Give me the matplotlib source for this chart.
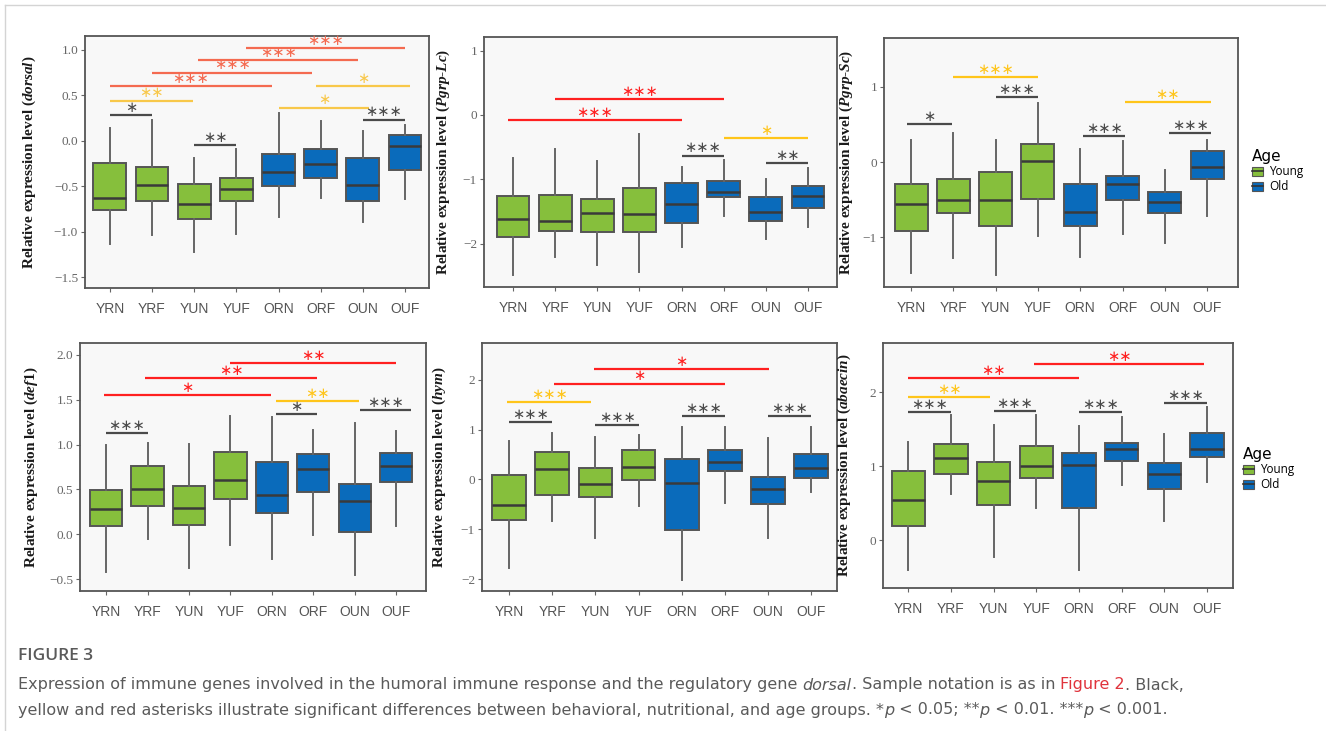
import matplotlib
matplotlib.use("Agg")
import matplotlib.pyplot as plt
from matplotlib.patches import Patch
from matplotlib.lines import Line2D
from matplotlib.transforms import IdentityTransform

plt.rcParams['mathtext.fontset'] = 'custom'
plt.rcParams['mathtext.it'] = 'Liberation Serif:italic:bold'
plt.rcParams['mathtext.rm'] = 'Liberation Serif:bold'

W, H = 1326, 731

groups = ["YRN", "YRF", "YUN", "YUF", "ORN", "ORF", "OUN", "OUF"]
age = ["Young"] * 4 + ["Old"] * 4

# box stats per group: whisker low, q1, median, q3, whisker high
dorsal = [
    [-1.134, -0.763, -0.624, -0.246, 0.139],
    [-1.035, -0.657, -0.485, -0.287, 0.23],
    [-1.225, -0.862, -0.69, -0.477, -0.19],
    [-1.027, -0.664, -0.529, -0.411, -0.089],
    [-0.84, -0.496, -0.345, -0.144, 0.311],
    [-0.631, -0.404, -0.257, -0.089, 0.219],
    [-0.888, -0.657, -0.485, -0.184, 0.109],
    [-0.642, -0.32, -0.06, 0.065, 0.179],
]
pgrp_lc = [
    [-2.48, -1.90, -1.62, -1.256, -0.67],
    [-2.20, -1.80, -1.64, -1.245, -0.53],
    [-2.33, -1.82, -1.52, -1.31, -0.71],
    [-2.43, -1.82, -1.54, -1.13, -0.30],
    [-2.05, -1.68, -1.385, -1.054, -0.80],
    [-1.566, -1.28, -1.194, -1.023, -0.70],
    [-1.93, -1.64, -1.50, -1.28, -0.987],
    [-1.74, -1.44, -1.26, -1.106, -0.83],
]
pgrp_sc = [
    [-1.477, -0.913, -0.554, -0.293, 0.297],
    [-1.277, -0.67, -0.51, -0.226, 0.386],
    [-1.499, -0.847, -0.501, -0.133, 0.297],
    [-0.987, -0.492, 0.009, 0.244, 0.785],
    [-1.255, -0.843, -0.665, -0.288, 0.173],
    [-0.953, -0.501, -0.288, -0.182, 0.275],
    [-1.069, -0.678, -0.532, -0.399, -0.111],
    [-0.71, -0.222, -0.067, 0.146, 0.297],
]
def1 = [
    [-0.422, 0.094, 0.288, 0.496, 0.997],
    [-0.054, 0.317, 0.51, 0.763, 1.016],
    [-0.377, 0.106, 0.299, 0.544, 1.004],
    [-0.117, 0.395, 0.607, 0.915, 1.32],
    [-0.273, 0.236, 0.436, 0.808, 1.305],
    [-0.007, 0.477, 0.73, 0.90, 1.157],
    [-0.452, 0.026, 0.373, 0.566, 1.238],
    [0.098, 0.585, 0.763, 0.904, 1.153],
]
hym = [
    [-1.786, -0.823, -0.522, 0.08, 0.769],
    [-0.836, -0.321, 0.201, 0.542, 0.93],
    [-1.184, -0.348, -0.087, 0.234, 0.856],
    [-0.535, -0.013, 0.241, 0.582, 0.89],
    [-2.02, -1.01, -0.067, 0.401, 1.05],
    [-0.468, 0.161, 0.348, 0.589, 1.05],
    [-1.17, -0.502, -0.194, 0.04, 0.829],
    [-0.261, 0.033, 0.234, 0.515, 1.05],
]
abaecin = [
    [-0.396, 0.198, 0.539, 0.939, 1.326],
    [0.629, 0.894, 1.11, 1.294, 1.685],
    [-0.216, 0.481, 0.804, 1.056, 1.551],
    [0.436, 0.84, 1.002, 1.276, 1.685],
    [-0.396, 0.436, 1.016, 1.182, 1.537],
    [0.751, 1.074, 1.231, 1.312, 1.658],
    [0.265, 0.697, 0.899, 1.043, 1.438],
    [0.782, 1.124, 1.236, 1.452, 1.798],
]

# significance brackets: (from, to, height, stars, group kind)
dorsal_sig = [
    (1, 2, 0.281, "*", "beh"), (3, 4, -0.045, "**", "beh"), (7, 8, 0.234, "***", "beh"),
    (1, 2.96, 0.443, "**", "nut"), (5, 7.15, 0.366, "*", "nut"), (5.9, 8.12, 0.604, "*", "nut"),
    (1, 4.84, 0.60, "***", "age"), (2, 5.8, 0.751, "***", "age"),
    (3.1, 6.88, 0.89, "***", "age"), (4.23, 8.0, 1.018, "***", "age"),
]
pgrp_lc_sig = [
    (5, 6, -0.63, "***", "beh"), (7, 8, -0.75, "**", "beh"),
    (6, 8, -0.36, "*", "nut"),
    (0.88, 5, -0.08, "***", "age"), (2, 6, 0.243, "***", "age"),
]
pgrp_sc_sig = [
    (0.9, 1.96, 0.506, "*", "beh"), (3, 4, 0.86, "***", "beh"),
    (5.06, 6.07, 0.341, "***", "beh"), (7.1, 8.1, 0.386, "***", "beh"),
    (2, 4, 1.131, "***", "nut"), (6.05, 8.08, 0.794, "**", "nut"),
]
def1_sig = [
    (1, 2, 1.127, "***", "beh"), (5.09, 6.09, 1.335, "*", "beh"), (7.12, 8.36, 1.383, "***", "beh"),
    (5.09, 7.11, 1.48, "**", "nut"),
    (0.95, 4.98, 1.55, "*", "age"), (1.95, 6.09, 1.74, "**", "age"), (3.98, 8.0, 1.91, "**", "age"),
]
hym_sig = [
    (1, 2, 1.144, "***", "beh"), (3, 4, 1.10, "***", "beh"),
    (5, 6, 1.27, "***", "beh"), (7, 8, 1.27, "***", "beh"),
    (0.95, 2.9, 1.552, "***", "nut"),
    (2.03, 6.01, 1.926, "*", "age"), (2.96, 7.03, 2.22, "*", "age"),
]
abaecin_sig = [
    (1, 2, 1.726, "***", "beh"), (3, 4, 1.748, "***", "beh"),
    (5, 6, 1.726, "***", "beh"), (7, 8, 1.852, "***", "beh"),
    (1, 2.91, 1.928, "**", "nut"),
    (1, 5, 2.189, "**", "age"), (3.95, 7.94, 2.382, "**", "age"),
]

age_colors = {"Young": "#86bf3c", "Old": "#0a6bbb"}
edge = "#555555"

# gene, data, brackets, pixel box (l, t, r, b), xlim, ylim, ticks, fmt, label x, red, yellow
panels = [
    ("dorsal", dorsal, dorsal_sig, (85, 36, 429, 288), (0.41, 8.57), (-1.62, 1.154),
     [-1.5, -1.0, -0.5, 0.0, 0.5, 1.0], "{:.1f}", 38, "#f46a50", "#f8c84a"),
    ("Pgrp-Lc", pgrp_lc, pgrp_lc_sig, (484, 37, 837, 287), (0.31, 8.69), (-2.67, 1.21),
     [-2, -1, 0, 1], "{:.0f}", 452, "#ff2020", "#ffc51a"),
    ("Pgrp-Sc", pgrp_sc, pgrp_sc_sig, (884, 38, 1238, 287), (0.36, 8.73), (-1.66, 1.65),
     [-1, 0, 1], "{:.0f}", 855, "#ff2020", "#ffc51a"),
    ("def1", def1, def1_sig, (80, 343, 426, 591), (0.37, 8.72), (-0.63, 2.13),
     [-0.5, 0.0, 0.5, 1.0, 1.5, 2.0], "{:.1f}", 40, "#ff2020", "#ffc51a"),
    ("hym", hym, hym_sig, (482, 343, 837, 591), (0.37, 8.6), (-2.24, 2.74),
     [-2, -1, 0, 1, 2], "{:.0f}", 448, "#ff2020", "#ffc51a"),
    ("abaecin", abaecin, abaecin_sig, (883, 343, 1233, 588), (0.41, 8.61), (-0.64, 2.66),
     [0, 1, 2], "{:.0f}", 853, "#ff2020", "#ffc51a"),
]

fig = plt.figure(figsize=(W / 100, H / 100), dpi=100, facecolor="white")

for gene, data, sig, box, xlim, ylim, yticks, fmt, labx, red, yellow in panels:
    l, t, r, b = box
    ax = fig.add_axes([l / W, 1 - b / H, (r - l) / W, (b - t) / H])
    ax.set_facecolor("#f8f8f8")
    stats = [dict(whislo=s[0], q1=s[1], med=s[2], q3=s[3], whishi=s[4], label=g)
             for s, g in zip(data, groups)]
    bp = ax.bxp(stats, positions=range(1, 9), widths=0.78, patch_artist=True,
                showfliers=False, showcaps=False,
                boxprops=dict(edgecolor=edge, linewidth=1.4),
                medianprops=dict(color="#3a3a3a", linewidth=1.8),
                whiskerprops=dict(color="#666666", linewidth=1.4))
    for patch, a in zip(bp["boxes"], age):
        patch.set_facecolor(age_colors[a])

    kind_col = {"beh": "#4a4a4a", "nut": yellow, "age": red}
    for x1, x2, y, stars, kind in sig:
        c = kind_col[kind]
        ax.plot([x1, x2], [y, y], color=c, lw=1.6, solid_capstyle="butt")
        ax.annotate("\u2217" * len(stars), xy=((x1 + x2) / 2, y), xytext=(0, 5.5),
                    textcoords="offset points", ha="center", va="center",
                    color=c, fontsize=10.5, family="DejaVu Sans")

    ax.set_xlim(*xlim)
    ax.set_ylim(*ylim)
    ax.set_yticks(yticks)
    ax.set_yticklabels([fmt.format(v).replace("-", "\u2212") for v in yticks],
                       family="Liberation Serif", fontsize=9.5, color="#666666")
    ax.set_xticks(range(1, 9))
    ax.set_xticklabels(groups, family="Liberation Sans", fontsize=10, color="#555555")
    ax.tick_params(axis="y", length=3, width=0.8, color="#666666", pad=2)
    ax.tick_params(axis="x", length=3, width=0.8, color="#666666", pad=7)
    for sp in ax.spines.values():
        sp.set_color(edge)
        sp.set_linewidth(1.3)
    ax.set_ylabel("Relative expression level (" +
                  "-".join("$\\mathit{%s}$" % p for p in gene.split("-")) + ")",
                  family="Liberation Serif", weight="bold", fontsize=11, color="#1a1a1a")
    ax.yaxis.set_label_coords((labx - l) / (r - l), 0.5)

# age legends beside the right-hand panels
handles = [(Patch(facecolor=age_colors[a], edgecolor=edge, linewidth=0.8),
            Line2D([], [], color="#333333", lw=1.2)) for a in ["Young", "Old"]]
for lx, ly in [(1241, 138), (1232, 436)]:
    fig.legend(handles, ["Young", "Old"], title="Age", loc="upper left",
               bbox_to_anchor=(lx / W, 1 - ly / H), frameon=False,
               title_fontsize=11, handlelength=1.0, handleheight=0.8,
               labelspacing=0.15, handletextpad=0.5, alignment="left",
               prop=dict(family="Open Sans", size=8.5))

# page frame
fig.add_artist(Line2D([5 / W, 1], [1 - 5 / H, 1 - 5 / H], color="#d4d4d4", lw=1))
fig.add_artist(Line2D([5 / W, 5 / W], [0, 1 - 5 / H], color="#d4d4d4", lw=1))

# caption
renderer = fig.canvas.get_renderer()


def runs(x, y, parts, size=11.5):
    for s, style, color in parts:
        t = fig.text(x, H - y, s, transform=IdentityTransform(), fontsize=size,
                     family="DejaVu Sans", style=style, color=color, va="center")
        x = t.get_window_extent(renderer).x1


grey = "#5a5a5a"
fig.text(18, H - 656, "FIGURE 3", transform=IdentityTransform(), fontsize=12.5,
         family="Open Sans", weight="semibold", color=grey, va="center")
runs(18, 685, [
    ("Expression of immune genes involved in the humoral immune response and the regulatory gene ", "normal", grey),
    ("dorsal", "italic", grey),
    (". Sample notation is as in ", "normal", grey),
    ("Figure 2", "normal", "#e0333c"),
    (". Black,", "normal", grey),
])
runs(18, 710, [
    ("yellow and red asterisks illustrate significant differences between behavioral, nutritional, and age groups. *", "normal", grey),
    ("p", "italic", grey),
    (" < 0.05; **", "normal", grey),
    ("p", "italic", grey),
    (" < 0.01. ***", "normal", grey),
    ("p", "italic", grey),
    (" < 0.001.", "normal", grey),
])

fig.savefig("out.png", dpi=100, facecolor="white")
